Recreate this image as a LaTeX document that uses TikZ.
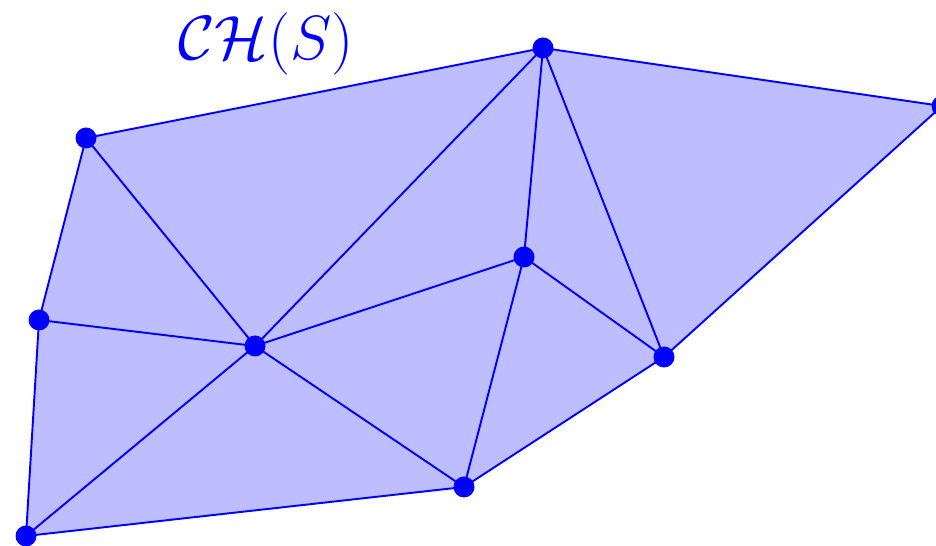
\documentclass[tikz,border=0pt]{standalone}
\usepackage{amsmath, amssymb}
\usetikzlibrary{calc}

\tikzset{
  hullfill/.style={fill=blue!26},
  triedge/.style={draw=blue, line width=1.1pt, line join=round},
  ptdot/.style={fill=blue},
}

\begin{document}
\begin{tikzpicture}[x=0.02cm, y=-0.02cm]
      \useasboundingbox (0,0) rectangle (936,546);
      % points of S
      \coordinate (pa) at (86,138);
      \coordinate (pb) at (543,48);
      \coordinate (pc) at (942,106);
      \coordinate (pd) at (39,320);
      \coordinate (pe) at (255,346);
      \coordinate (pf) at (524,257);
      \coordinate (pg) at (664,357);
      \coordinate (ph) at (464,487);
      \coordinate (pi) at (26,536);
      % hull
      \fill[hullfill] (pa) -- (pb) -- (pc) -- (pg) -- (ph) -- (pi) -- (pd) -- cycle;
      \draw[triedge] (pa) -- (pb) -- (pc) -- (pg) -- (ph) -- (pi) -- (pd) -- cycle;
      % inner edges
      \foreach \u/\v in {pa/pe, pb/pe, pb/pf, pb/pg, pf/pe, pf/pg, pf/ph, pe/ph, pe/pi, pd/pe}
        \draw[triedge] (\u) -- (\v);
      \foreach \p in {pa,pb,pc,pd,pe,pf,pg,ph,pi}
        \fill[ptdot] (\p) circle (10.5);
      \node[text=blue, font=\Huge, scale=1.43, inner sep=0pt] (chlabel) at (266,44) {$\mathcal{CH}(S)$};
    \end{tikzpicture}
\end{document}
